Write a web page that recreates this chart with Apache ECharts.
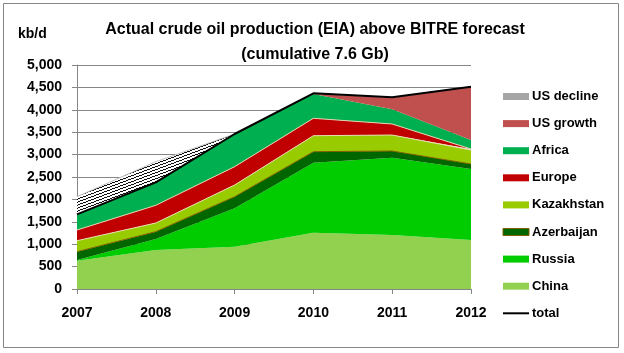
<!DOCTYPE html>
<html>
<head>
<meta charset="utf-8">
<script src="https://cdn.jsdelivr.net/npm/echarts@6/dist/echarts.min.js"></script>
<style>
  html, body { margin: 0; padding: 0; background: #fff; }
  #oilChart { width: 624px; height: 353px; }
</style>
</head>
<body>
<div id="oilChart"></div>
<script>
const years = ['2007', '2008', '2009', '2010', '2011', '2012']
// stacked contributions, kb/d
const china = [630, 870, 945, 1257, 1205, 1094]
const russia = [20, 246, 855, 1563, 1726, 1585]
const azerbaijan = [183, 164, 260, 245, 149, 111]
const kazakhstan = [245, 193, 261, 357, 357, 313]
const europe = [239, 395, 409, 388, 246, 22]
const africa = [350, 513, 730, 543, 327, 201]
const usGrowth = [0, 0, 0, 15, 268, 1190]
const usDecline = [393, 461, 0, 0, 0, 0]
const total = [1667, 2381, 3460, 4368, 4278, 4516]

const FONT = "'Liberation Sans', Arial, sans-serif"

// hatch pattern for the US decline band (thin slanted black lines)
const hatch = document.createElement('canvas')
hatch.width = 8
hatch.height = 3
const hctx = hatch.getContext('2d')
hctx.fillStyle = '#ffffff'
hctx.fillRect(0, 0, 8, 3)
hctx.fillStyle = '#111111'
for (let x = 0; x < 8; x++) {
  const row = ((2 - Math.floor(3 * x / 8)) % 3 + 3) % 3
  hctx.fillRect(x, row, 1, 1)
}

const areaSeries = (name, data, color, border) => ({
  name: name,
  type: 'line',
  stack: 'oil',
  data: data,
  symbol: 'none',
  lineStyle: { width: border ? 1 : 0, color: border || color },
  itemStyle: { color: color },
  areaStyle: { color: color, opacity: 1 },
  emphasis: { disabled: true }
})

const initOilChart = () => {
  const oilChart = echarts.init(document.getElementById('oilChart'))
  const option = {
    animation: false,
    backgroundColor: '#ffffff',
    title: {
      text: 'Actual crude oil production (EIA) above BITRE forecast\n(cumulative 7.6 Gb)',
      left: 310,
      top: 12,
      textAlign: 'center',
      textStyle: { fontFamily: FONT, fontSize: 16, fontWeight: 'bold', color: '#000', lineHeight: 25 }
    },
    graphic: [
      { type: 'rect', shape: { x: 3.5, y: 3.5, width: 615, height: 344 }, style: { fill: 'none', stroke: '#868686', lineWidth: 1 } },
      { type: 'text', left: 18, top: 27, style: { text: 'kb/d', font: 'bold 14px ' + FONT, fill: '#000' } }
    ],
    legend: {
      orient: 'vertical',
      left: 497,
      top: 85,
      itemGap: 14.1,
      itemWidth: 26,
      itemHeight: 7,
      textStyle: { fontFamily: FONT, fontSize: 13, fontWeight: 'bold', color: '#000', padding: [0, 0, 0, -2] },
      data: [
        { name: 'US decline', icon: 'rect', itemStyle: { color: '#a6a6a6' } },
        { name: 'US growth', icon: 'rect' },
        { name: 'Africa', icon: 'rect' },
        { name: 'Europe', icon: 'rect' },
        { name: 'Kazakhstan', icon: 'rect' },
        { name: 'Azerbaijan', icon: 'rect', itemStyle: { borderColor: '#7f5f00', borderWidth: 1 } },
        { name: 'Russia', icon: 'rect' },
        { name: 'China', icon: 'rect' },
        { name: 'total', itemStyle: { opacity: 0 }, lineStyle: { width: 2, color: '#000' } }
      ]
    },
    grid: { left: 77, right: 153, top: 65, bottom: 64 },
    xAxis: {
      type: 'category',
      data: years,
      boundaryGap: false,
      axisLine: { lineStyle: { color: '#868686' } },
      axisTick: { show: true, length: 5, lineStyle: { color: '#868686' } },
      axisLabel: { fontFamily: FONT, fontSize: 14, fontWeight: 'bold', color: '#000', margin: 17 },
      splitLine: { show: false }
    },
    yAxis: {
      type: 'value',
      min: 0,
      max: 5000,
      interval: 500,
      axisLine: { show: true, lineStyle: { color: '#868686' } },
      axisTick: { show: true, length: 5, lineStyle: { color: '#868686' } },
      axisLabel: {
        fontFamily: FONT, fontSize: 14, fontWeight: 'bold', color: '#000', margin: 15,
        formatter: v => v.toLocaleString('en-US')
      },
      splitLine: { lineStyle: { color: '#868686', width: 1 } }
    },
    series: [
      areaSeries('China', china, '#92d050'),
      areaSeries('Russia', russia, '#00cc00'),
      areaSeries('Azerbaijan', azerbaijan, '#006600', '#7f5f00'),
      areaSeries('Kazakhstan', kazakhstan, '#99cc00', '#e6e0b0'),
      areaSeries('Europe', europe, '#c00000', '#e6d0b0'),
      areaSeries('Africa', africa, '#00b050'),
      areaSeries('US growth', usGrowth, '#c0504d'),
      {
        name: 'US decline',
        type: 'line',
        stack: 'oil',
        data: usDecline,
        symbol: 'none',
        lineStyle: { width: 1, color: '#bfbfbf' },
        itemStyle: { color: '#a6a6a6' },
        areaStyle: { color: { image: hatch, repeat: 'repeat' }, opacity: 1 },
        emphasis: { disabled: true }
      },
      {
        name: 'total',
        type: 'line',
        data: total,
        symbol: 'none',
        z: 5,
        lineStyle: { color: '#000', width: 2 },
        itemStyle: { color: '#000' },
        emphasis: { disabled: true }
      }
    ]
  }
  oilChart.setOption(option)
}
initOilChart()
</script>
</body>
</html>
